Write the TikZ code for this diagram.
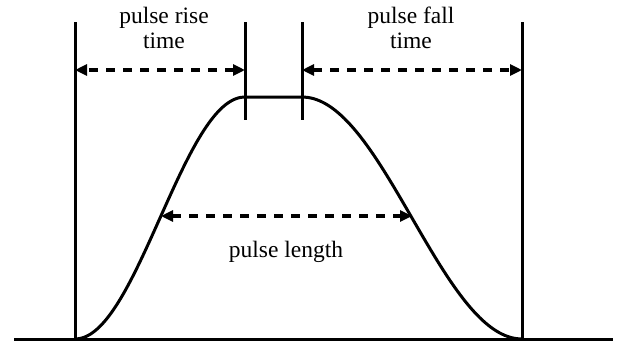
\documentclass[tikz,border=0pt]{standalone}
\usepackage{fontspec}
\setmainfont{Liberation Serif}
\usetikzlibrary{arrows.meta}

\tikzset{
    guide/.style={line width=3pt},
    span/.style={line width=3.2pt, dash pattern=on 9pt off 8pt,
        {Triangle[length=12pt,width=11pt]}-{Triangle[length=12pt,width=11pt]}},
    lbl/.style={inner sep=0pt, align=center, font=\fontsize{23.5}{25}\selectfont}
}

\begin{document}
\begin{tikzpicture}[x=1pt, y=-1pt]
    \useasboundingbox (0,0) rectangle (617,341);

    % Key points of the pulse
    \coordinate (start) at (75,339);
    \coordinate (topL) at (245,97);
    \coordinate (topR) at (302,97);
    \coordinate (stop) at (522,339);

    % Base line
    \draw[line width=3.5pt] (14,339.5) -- (613,339.5);

    % Vertical guides
    \draw[guide] (75,22) -- (start);
    \draw[guide] (522,22) -- (stop);
    \draw[guide] (245,22) -- (245,120);
    \draw[guide] (302,22) -- (302,120);

    % Pulse shape
    \draw[guide] plot[smooth, domain=0:1, samples=40]
        ({75+170*\x}, {339-242*(1-cos(180*\x))/2})
        -- (topR)
        -- plot[smooth, domain=0:1, samples=40]
        ({302+220*\x}, {97+242*(1-cos(180*\x))/2});

    % Rise and fall time
    \coordinate (riseA) at (75,70);
    \coordinate (riseB) at (245,70);
    \coordinate (fallA) at (302,70);
    \coordinate (fallB) at (522,70);
    \draw[span] (riseB) -- (riseA);
    \draw[span] (fallA) -- (fallB);
    \node[lbl, anchor=base] (rise) at (164,48) {pulse rise\\time};
    \node[lbl, anchor=base] (fall) at (411,48) {pulse fall\\time};

    % Pulse length
    \coordinate (lenA) at (161,216);
    \coordinate (lenB) at (412,216);
    \draw[span] (lenA) -- (lenB);
    \node[lbl, anchor=base] (len) at (286,257) {pulse length};
\end{tikzpicture}
\end{document}
